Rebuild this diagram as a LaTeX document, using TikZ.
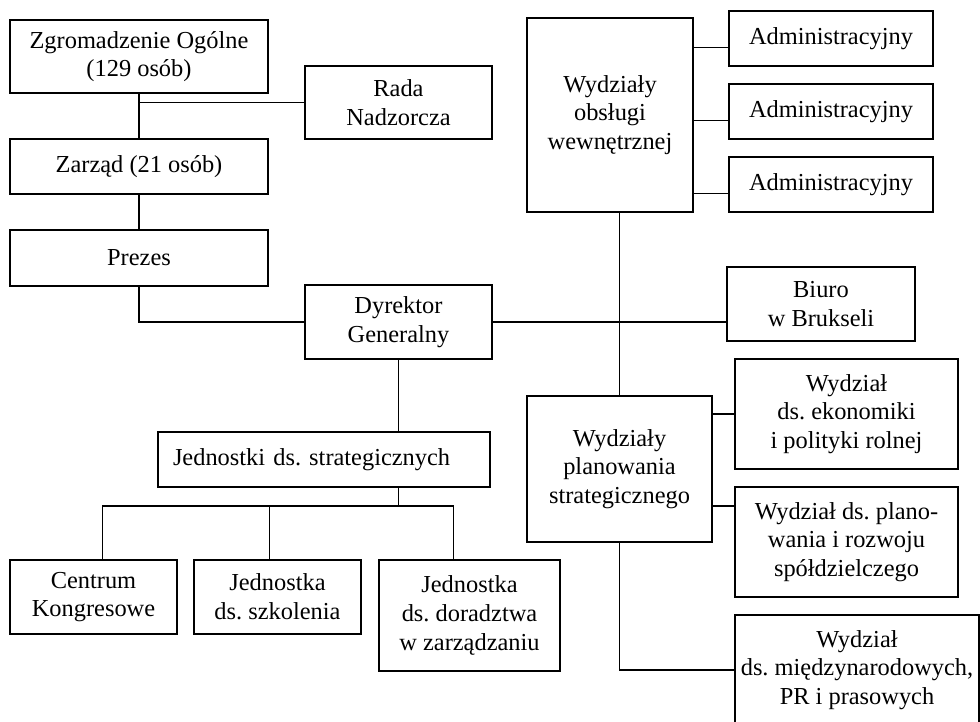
\documentclass[tikz,border=0pt]{standalone}
\usepackage{fontspec}
\setmainfont{Liberation Serif}
\frenchspacing
\begin{document}
\begin{tikzpicture}[x=0.75pt,y=0.75pt,yscale=-1,xscale=1,
	box/.style={draw, line width=0.8pt, align=center, inner sep=2pt, font=\fontsize{18.3}{21.5}\selectfont},
	wh/.style 2 args={minimum width=#1*0.75pt, minimum height=#2*0.75pt},
	conn/.style={line width=0.8pt}]
	\useasboundingbox (0,0) rectangle (980,721);
	\clip (0,0) rectangle (980,721);
	\node [box, wh={258}{73}] (zo) at (139,56.5) {Zgromadzenie Ogólne\\(129 osób)};
	\node [box, wh={187}{73}] (rn) at (398.5,102.5) {Rada\\Nadzorcza};
	\node [box, wh={258}{55}] (za) at (139,166.5) {Zarząd (21 osób)};
	\node [box, wh={258}{56}] (pr) at (139,258) {Prezes};
	\node [box, wh={187}{74}] (dg) at (398.5,322) {Dyrektor\\Generalny};
	\node [box, wh={166}{194}] (wo) at (610,115) {Wydziały\\obsługi\\wewnętrznej};
	\node [box, wh={204}{55}] (a1) at (831,38.5) {Administracyjny};
	\node [box, wh={204}{55}] (a2) at (831,111.5) {Administracyjny};
	\node [box, wh={204}{55}] (a3) at (831,184.5) {Administracyjny};
	\node [box, wh={188}{74}] (bb) at (821,304) {Biuro\\w Brukseli};
	\node [box, wh={185}{146}] (wp) at (619.5,469) {Wydziały\\planowania\\strategicznego};
	\node [box, wh={223}{110}] (we) at (846.5,414) {Wydział\\ds. ekonomiki\\i polityki rolnej};
	\node [box, wh={223}{110}] (wr) at (846.5,542) {Wydział ds. plano-\\wania i rozwoju\\spółdzielczego};
	\node [box, wh={244}{110}] (wm) at (857,670) {Wydział\\ds. międzynarodowych,\\PR i prasowych};
	\node [box, wh={332}{55}, text width=226.5pt, inner xsep=11.25pt, align=left] (js) at (324,459.5) {Jednostki ds. strategicznych};
	\node [box, wh={167}{74}] (ck) at (93.5,597) {Centrum\\Kongresowe};
	\node [box, wh={167}{74}] (sz) at (277.5,597) {Jednostka\\ds. szkolenia};
	\node [box, wh={181}{111}] (dz) at (469.5,615.5) {Jednostka\\ds. doradztwa\\w zarządzaniu};
	\coordinate (bus) at (398.5,506);
	\draw [conn] (zo) -- (za);
	\draw [conn] (rn.west) -- (rn.west -| zo.south);
	\draw [conn] (za) -- (pr);
	\draw [conn] (pr.south) |- (dg.west);
	\draw [conn] (dg.east) -- (dg.east -| bb.west);
	\draw [conn] (wp.north) -- (wp.north |- wo.south);
	\foreach \n in {a1,a2,a3}
		\draw [conn] ([yshift=7pt]\n.west) -- ([yshift=7pt]\n.west -| wo.east);
	\draw [conn] (we.west) -- (we.west -| wp.east);
	\draw [conn] ([yshift=-27pt]wr.west) -- ([yshift=-27pt]wr.west -| wp.east);
	\draw [conn] (wp.south) |- (wm.west);
	\draw [conn] (dg.south) -- (dg.south |- js.north);
	\draw [conn] (dg.south |- js.south) -- (bus);
	\draw [conn] ([xshift=7pt]ck.north) |- (bus) -| ([xshift=-12pt]dz.north);
	\draw [conn] ([xshift=-6pt]sz.north) -- ([xshift=-6pt]sz.north |- bus);
\end{tikzpicture}
\end{document}
